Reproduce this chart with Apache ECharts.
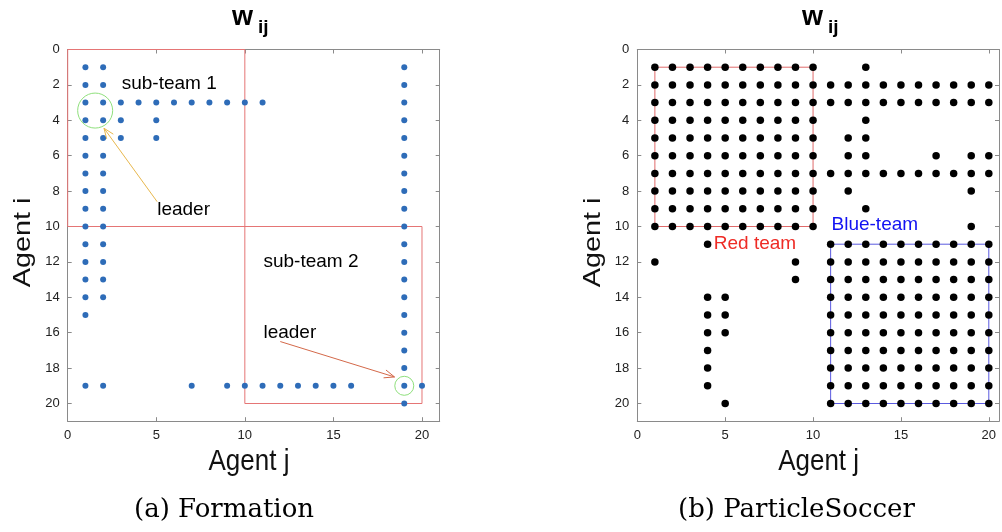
<!DOCTYPE html>
<html><head><meta charset="utf-8">
<script src="https://cdn.jsdelivr.net/npm/echarts@6/dist/echarts.min.js"></script>
<style>html,body{margin:0;padding:0;background:#fff}#c{width:1002px;height:532px}</style>
</head><body><div id="c"></div>
<script>
// ---------- (a) Formation: for each agent i (row), agents j with w_ij != 0 ----------
const formationRowsI = [1,2,3,4,5,6,7,8,9,10,11,12,13,14,15,16,17,18,19,20];
const formationColsJ = [
  [1,2,19],
  [1,2,19],
  [1,2,3,4,5,6,7,8,9,10,11,19],
  [1,2,3,5,19],
  [1,2,3,5,19],
  [1,2,19],
  [1,2,19],
  [1,2,19],
  [1,2,19],
  [1,2,19],
  [1,2,19],
  [1,2,19],
  [1,2,19],
  [1,2,19],
  [1,19],
  [19],
  [19],
  [19],
  [1,2,7,9,10,11,12,13,14,15,16,19,20],
  [19]
];
// ---------- (b) ParticleSoccer ----------
const soccerRowsI = [1,2,3,4,5,6,7,8,9,10,11,12,13,14,15,16,17,18,19,20];
const soccerColsJ = [
  [1,2,3,4,5,6,7,8,9,10,13],
  [1,2,3,4,5,6,7,8,9,10,11,12,13,14,15,16,17,18,19,20],
  [1,2,3,4,5,6,7,8,9,10,11,12,13,14,15,16,17,18,19,20],
  [1,2,3,4,5,6,7,8,9,10,13],
  [1,2,3,4,5,6,7,8,9,10,12,13],
  [1,2,3,4,5,6,7,8,9,10,12,13,17,19,20],
  [1,2,3,4,5,6,7,8,9,10,11,12,13,14,15,16,17,18,19,20],
  [1,2,3,4,5,6,7,8,9,10,12,19],
  [1,2,3,4,5,6,7,8,9,10,13],
  [1,2,3,4,5,6,7,8,9,10,19],
  [4,11,12,13,14,15,16,17,18,19,20],
  [1,9,11,12,13,14,15,16,17,18,19,20],
  [9,11,12,13,14,15,16,17,18,19,20],
  [4,5,11,12,13,14,15,16,17,18,19,20],
  [4,5,11,12,13,14,15,16,17,18,19,20],
  [4,5,11,12,13,14,15,16,17,18,19,20],
  [4,11,12,13,14,15,16,17,18,19,20],
  [4,11,12,13,14,15,16,17,18,19,20],
  [4,11,12,13,14,15,16,17,18,19,20],
  [5,11,12,13,14,15,16,17,18,19,20]
];
// team boxes [j, i] corners
const formationBoxes = [[0,0],[10,0],[10,20],[20,20],[20,10],[0,10],[0,0]];
const redTeamBox = [[1,1],[10,1],[10,10],[1,10],[1,1]];
const blueTeamBox = [[11,11],[20,11],[20,20],[11,20],[11,11]];
// annotations
const formationTexts = [['sub-team 1',3.05,1.95],['leader',5.05,9.05],['sub-team 2',11.05,12.0],['leader',11.05,16.0]];
const formationArrowStart = [[5.05,8.6],[12.0,16.5]];
const formationArrowEnd = [[2.05,4.45],[18.45,18.5]];
const formationArrowColors = ['#e8b84e','#d4694a'];
const formationLeaders = [[1.55,3.45,35],[19,19,19]];
const soccerTexts = [['Red team',4.35,10.95,'#ee2b25'],['Blue-team',11.05,9.9,'#1212f2']];
const xTicks = [0,5,10,15,20];
const yTicks = [0,2,4,6,8,10,12,14,16,18,20];

function toPoints(rows, cols){
  const out=[];
  rows.forEach((i,k)=>cols[k].forEach(j=>out.push([j,i])));
  return out;
}

const AX = '#8a8a8a';
function xAx(grid, pos, max, labels){
  return {gridIndex:grid, type:'value', position:pos, min:0, max:max, interval:5,
    axisLine:{show:true, onZero:false, lineStyle:{color:AX,width:1}},
    axisTick:{show:true, inside:true, length:4, lineStyle:{color:AX}},
    splitLine:{show:false},
    axisLabel:{show:labels, fontFamily:'Liberation Sans', fontSize:13, color:'#222', margin:8,
      formatter:v=>xTicks.includes(v)?String(v):''}};
}
function yAx(grid, pos, labels){
  return {gridIndex:grid, type:'value', position:pos, min:0, max:21, interval:2, inverse:true,
    axisLine:{show:true, onZero:false, lineStyle:{color:AX,width:1}},
    axisTick:{show:true, inside:true, length:4, lineStyle:{color:AX}},
    splitLine:{show:false},
    axisLabel:{show:labels, fontFamily:'Liberation Sans', fontSize:13, color:'#222', margin:8,
      formatter:v=>yTicks.includes(v)?String(v):''}};
}
function boxSeries(xi, yi, pts, color){
  return {type:'line', xAxisIndex:xi, yAxisIndex:yi, data:pts, symbol:'none', silent:true, z:1,
    lineStyle:{color:color, width:1}, animation:false};
}
function textSeries(xi, yi, items, defColor){
  return {type:'scatter', xAxisIndex:xi, yAxisIndex:yi, symbolSize:0, silent:true, z:5,
    itemStyle:{opacity:1},
    data:items.map(t=>({value:[t[1],t[2]], name:t[0], label:{color:t[3]||defColor}})),
    label:{show:true, position:[0,0], align:'left', verticalAlign:'middle', formatter:p=>p.name,
      fontFamily:'Liberation Sans', fontSize:19, opacity:1},
    animation:false};
}
function nameText(txt, x, y, rot){
  const g = {type:'text', x:x, y:y, silent:true,
    style:{text:txt, font:(rot?'24px':'26px')+' "Liberation Sans"', fill:'#111', align:'center', verticalAlign:'middle'}};
  if(rot){ g.rotation = Math.PI/2; g.scaleX = 1.2; }
  else { g.scaleY = 1.16; }
  return g;
}
// arrows drawn through the axes' scales (api.coord)
function arrowSeries(xi, yi){
  return {type:'custom', xAxisIndex:xi, yAxisIndex:yi, silent:true, z:6, animation:false,
    data: formationArrowStart.map((s,k)=>[s[0],s[1],formationArrowEnd[k][0],formationArrowEnd[k][1],k]),
    renderItem:function(params, api){
      const p0 = api.coord([api.value(0), api.value(1)]);
      const p1 = api.coord([api.value(2), api.value(3)]);
      const col = formationArrowColors[api.value(4)];
      const ang = Math.atan2(p1[1]-p0[1], p1[0]-p0[0]);
      const L = 11, w = 0.38;
      const a1 = [p1[0]-L*Math.cos(ang-w), p1[1]-L*Math.sin(ang-w)];
      const a2 = [p1[0]-L*Math.cos(ang+w), p1[1]-L*Math.sin(ang+w)];
      const st = {stroke:col, lineWidth:1, fill:null};
      return {type:'group', children:[
        {type:'line', shape:{x1:p0[0],y1:p0[1],x2:p1[0],y2:p1[1]}, style:st},
        {type:'polyline', shape:{points:[a1,p1,a2]}, style:st}
      ]};
    }};
}

const chart = echarts.init(document.getElementById('c'), null, {renderer:'canvas'});
chart.setOption({
  animation:false,
  backgroundColor:'#fff',
  grid:[
    {left:67.7, top:49.5, width:372, height:371.7},
    {left:637.3, top:49.5, width:364, height:371.7}
  ],
  xAxis:[xAx(0,'bottom',21,true), xAx(0,'top',21,false), xAx(1,'bottom',20.58,true), xAx(1,'top',20.58,false)],
  yAxis:[yAx(0,'left',true), yAx(0,'right',false), yAx(1,'left',true), yAx(1,'right',false)],
  series:[
    boxSeries(0,0,formationBoxes,'#e57575'),
    {type:'scatter', xAxisIndex:0, yAxisIndex:0, data:toPoints(formationRowsI, formationColsJ),
      symbolSize:6, itemStyle:{color:'#2e6cb8', opacity:1}, z:3, silent:true},
    {type:'scatter', xAxisIndex:0, yAxisIndex:0, data:formationLeaders.map(d=>({value:[d[0],d[1]], symbolSize:d[2]})),
      itemStyle:{color:'rgba(0,0,0,0)', borderColor:'#8fe07c', borderWidth:1, opacity:1}, z:4, silent:true},
    textSeries(0,0,formationTexts,'#000'),
    arrowSeries(0,0),
    boxSeries(2,2,redTeamBox,'#e06a6a'),
    boxSeries(2,2,blueTeamBox,'#5a5ae0'),
    {type:'scatter', xAxisIndex:2, yAxisIndex:2, data:toPoints(soccerRowsI, soccerColsJ),
      symbolSize:7.5, itemStyle:{color:'#000', opacity:1}, z:3, silent:true},
    textSeries(2,2,soccerTexts,'#000')
  ],
  graphic:[
    {type:'text', left:232, top:4, style:{text:'w', font:'bold 27px "Liberation Sans"', fill:'#000'}},
    {type:'text', left:258, top:18, style:{text:'ij', font:'bold 19px "Liberation Sans"', fill:'#000'}},
    {type:'text', left:802, top:4, style:{text:'w', font:'bold 27px "Liberation Sans"', fill:'#000'}},
    {type:'text', left:828, top:18, style:{text:'ij', font:'bold 19px "Liberation Sans"', fill:'#000'}},
    nameText('Agent j', 249, 462, false),
    nameText('Agent j', 818.6, 462, false),
    nameText('Agent i', 23.5, 242.5, true),
    nameText('Agent i', 593, 242.5, true),
    {type:'text', left:134, top:497, style:{text:'(a) Formation', font:'26px "DejaVu Serif"', fill:'#000'}},
    {type:'text', left:678, top:497, style:{text:'(b) ParticleSoccer', font:'26px "DejaVu Serif"', fill:'#000'}}
  ]
});
</script></body></html>
